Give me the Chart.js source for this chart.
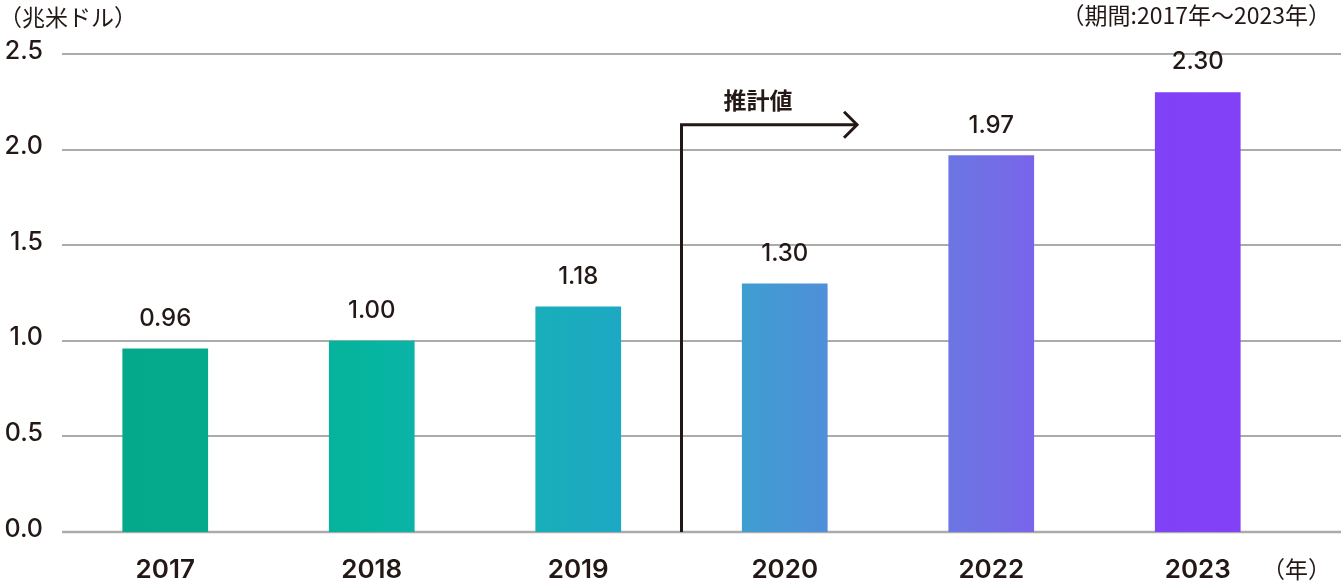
<!DOCTYPE html>
<html lang="ja">
<head>
<meta charset="utf-8">
<script src="https://cdn.jsdelivr.net/npm/chart.js@4/dist/chart.umd.min.js"></script>
<style>
    html, body { margin: 0; padding: 0; background: #fff; }
    #wrap { width: 1341px; height: 583px; position: relative; }
</style>
</head>
<body>
<div id="wrap"><canvas id="marketChart"></canvas></div>
<script>
// 市場規模（兆米ドル）
const years = ["2017", "2018", "2019", "2020", "2022", "2023"];
const values = [0.96, 1.0, 1.18, 1.3, 1.97, 2.3];
const yTicks = [0, 0.5, 1.0, 1.5, 2.0, 2.5];

const unitLabel = "（兆米ドル）";
const periodLabel = "（期間:2017年～2023年）";
const yearUnitLabel = "（年）";
const forecastLabel = "推計値";

const INK = "#231815";
const GRID = "#ababab";
const NUM_FONT = "Inter, 'Noto Sans CJK JP', sans-serif";
const JP_FONT = "'Noto Sans CJK JP', sans-serif";

// 横方向グラデーション（緑→紫）
function barGradient(chart) {
    const area = chart.chartArea;
    if (!area) return "#06b5a0";
    const g = chart.ctx.createLinearGradient(area.left, 0, area.right, 0);
    g.addColorStop(0.0, "#04a688");
    g.addColorStop(0.12, "#05aa8c");
    g.addColorStop(0.25, "#06b5a0");
    g.addColorStop(0.38, "#17afb8");
    g.addColorStop(0.45, "#1da8c4");
    g.addColorStop(0.55, "#3e9ed1");
    g.addColorStop(0.62, "#508fd8");
    g.addColorStop(0.71, "#6a78e2");
    g.addColorStop(0.78, "#7866ea");
    g.addColorStop(0.88, "#8042f6");
    g.addColorStop(1.0, "#8540f8");
    return g;
}

// 目盛線（右端まで延ばす）・数値ラベル・推計値の矢印
const decorations = {
    id: "decorations",
    beforeDatasetsDraw(chart) {
        const { ctx, scales } = chart;
        const y = scales.y;
        ctx.save();
        ctx.strokeStyle = GRID;
        yTicks.forEach((v) => {
            const py = Math.round(y.getPixelForValue(v));
            ctx.lineWidth = v === 0 ? 2.5 : 2;
            ctx.beginPath();
            ctx.moveTo(y.right, py);
            ctx.lineTo(chart.width, py);
            ctx.stroke();
        });
        ctx.restore();
    },
    afterDatasetsDraw(chart) {
        const { ctx, scales } = chart;
        const x = scales.x;
        const y = scales.y;
        ctx.save();

        // 数値ラベル
        ctx.fillStyle = INK;
        ctx.font = "500 24px " + NUM_FONT;
        ctx.textAlign = "center";
        ctx.textBaseline = "middle";
        chart.getDatasetMeta(0).data.forEach((bar, i) => {
            ctx.fillText(values[i].toFixed(2), bar.x, bar.y - 30);
        });

        // 推計値の矢印（2019 と 2020 の間から）
        const ax = x.getPixelForValue(2.5);
        const ay = y.getPixelForValue(2.13);
        const aEnd = x.getPixelForValue(3.35);
        ctx.strokeStyle = INK;
        ctx.lineWidth = 3;
        ctx.beginPath();
        ctx.moveTo(ax, y.getPixelForValue(0));
        ctx.lineTo(ax, ay);
        ctx.lineTo(aEnd, ay);
        ctx.stroke();
        ctx.beginPath();
        ctx.moveTo(aEnd - 13, ay - 13);
        ctx.lineTo(aEnd, ay);
        ctx.lineTo(aEnd - 13, ay + 13);
        ctx.stroke();

        ctx.font = "bold 23px " + JP_FONT;
        ctx.fillText(forecastLabel, x.getPixelForValue(2.87), y.getPixelForValue(2.26));

        // 単位・期間
        ctx.font = "400 23px " + JP_FONT;
        ctx.textBaseline = "middle";
        ctx.textAlign = "left";
        ctx.fillText(unitLabel, -1, 17);
        ctx.textAlign = "right";
        ctx.fillText(periodLabel, chart.width - 10, 15);
        ctx.fillText(yearUnitLabel, chart.width - 10, 569);
        ctx.restore();
    },
};

const ctxMarket = document.getElementById("marketChart").getContext("2d");

const marketChart = new Chart(ctxMarket, {
    type: "bar",
    data: {
        labels: years,
        datasets: [
            {
                data: values,
                backgroundColor: (c) => barGradient(c.chart),
                borderWidth: 0,
                categoryPercentage: 1.0,
                barPercentage: 0.415,
            },
        ],
    },
    options: {
        responsive: true,
        maintainAspectRatio: false,
        animation: false,
        layout: {
            padding: { top: 54, right: 40, left: 0, bottom: 0 },
        },
        plugins: {
            legend: { display: false },
            tooltip: { enabled: false },
        },
        scales: {
            x: {
                grid: { display: false, drawTicks: false },
                border: { display: false },
                ticks: {
                    color: INK,
                    padding: 23,
                    font: { family: NUM_FONT, size: 26, weight: "600" },
                },
                afterFit: (s) => {
                    s.height = 51;
                },
            },
            y: {
                min: 0,
                max: 2.5,
                grid: { display: false, drawTicks: false },
                border: { display: false },
                ticks: {
                    stepSize: 0.5,
                    color: INK,
                    padding: 19,
                    labelOffset: -3,
                    font: { family: NUM_FONT, size: 25, weight: "500" },
                    callback: (v) => Number(v).toFixed(1),
                },
                afterFit: (s) => {
                    s.width = 62;
                },
            },
        },
    },
    plugins: [decorations],
});
</script>
</body>
</html>
